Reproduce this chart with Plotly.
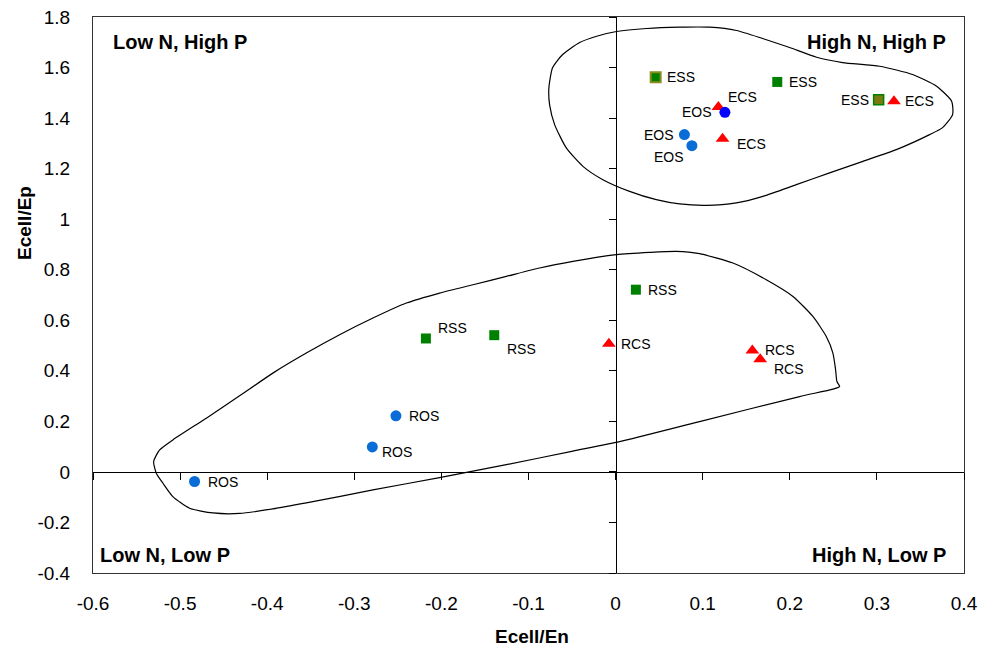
import plotly.graph_objects as go

# ---- data ----
labels = ["ESS", "ECS", "EOS", "EOS", "EOS", "ECS", "ESS", "ESS", "ECS",
          "RSS", "RSS", "RCS", "RSS", "RCS", "RCS", "ROS", "ROS", "ROS"]
x_vals = [0.046, 0.118, 0.1255, 0.079, 0.0876, 0.1228, 0.1856, 0.302, 0.3196,
          -0.2178, -0.1393, -0.0077, 0.0233, 0.157, 0.166, -0.2522, -0.2793, -0.4834]
y_vals = [1.562, 1.444, 1.423, 1.335, 1.291, 1.318, 1.543, 1.473, 1.467,
          0.528, 0.541, 0.507, 0.721, 0.480, 0.446, 0.222, 0.099, -0.038]

x_ticks = [-0.6, -0.5, -0.4, -0.3, -0.2, -0.1, 0, 0.1, 0.2, 0.3, 0.4]
y_ticks = [-0.4, -0.2, 0, 0.2, 0.4, 0.6, 0.8, 1, 1.2, 1.4, 1.6, 1.8]

x_title = "Ecell/En"
y_title = "Ecell/Ep"
quadrants = ["Low N, High P", "High N, High P", "Low N, Low P", "High N, Low P"]

# outline of the "E" group
upper_x = [-0.0766, -0.0723, -0.0608, -0.0413, -0.0218, 0.0011, 0.0356, 0.0735, 0.1079, 0.1389,
           0.1688, 0.1998, 0.2308, 0.2606, 0.3031, 0.3410, 0.3685, 0.3858, 0.3869, 0.3754,
           0.3605, 0.3223, 0.2839, 0.2457, 0.2075, 0.1691, 0.1386, 0.1041, 0.0735, 0.0467,
           0.0161, -0.0146, -0.0375, -0.0566, -0.0700, -0.0758]
upper_y = [1.5196, 1.6000, 1.6515, 1.6990, 1.7240, 1.7426, 1.7545, 1.7596, 1.7596, 1.7465,
           1.7149, 1.6792, 1.6408, 1.6198, 1.6051, 1.5723, 1.5259, 1.4665, 1.4139, 1.3624,
           1.3347, 1.2752, 1.2289, 1.1830, 1.1366, 1.0903, 1.0642, 1.0547, 1.0602, 1.0772,
           1.1101, 1.1564, 1.2091, 1.2820, 1.3743, 1.4535]
# outline of the "R" group
lower_x = [-0.5304, -0.5235, -0.5083, -0.4699, -0.4317, -0.3935, -0.3551, -0.3169, -0.2786, -0.2403,
           -0.2021, -0.1638, -0.1255, -0.0873, -0.0490, 0.0008, 0.0390, 0.0697, 0.0964, 0.1347,
           0.1730, 0.2036, 0.2265, 0.2419, 0.2495, 0.2526, 0.2541, 0.2572, 0.2495, 0.2113,
           0.0964, 0.0046, -0.0490, -0.1255, -0.2021, -0.2786, -0.3551, -0.3935, -0.4317, -0.4623,
           -0.4891, -0.5083, -0.5197, -0.5273]
lower_y = [0.0408, 0.0871, 0.1267, 0.2127, 0.3010, 0.3909, 0.4701, 0.5426, 0.6087, 0.6681,
           0.7077, 0.7406, 0.7735, 0.8067, 0.8329, 0.8594, 0.8685, 0.8725, 0.8634, 0.8265,
           0.7604, 0.6943, 0.6150, 0.5358, 0.4701, 0.4040, 0.3576, 0.3378, 0.3275, 0.2982,
           0.1992, 0.1200, 0.0824, 0.0285, -0.0226, -0.0713, -0.1228, -0.1465, -0.1644, -0.1624,
           -0.1438, -0.0978, -0.0448, -0.0051]

# ---- styles ----
FONT = "Arial, Liberation Sans, sans-serif"
label_shift = [(25, 0), (24, 10), (-28, 0), (-25, 0), (-23, -11), (29, -5), (26, 0), (-24, 0), (26, 0),
               (27, 10), (27, -14), (27, 0), (27, 0), (28, 1), (29, -10), (28, 0), (25, -5), (28, 0)]
marker_style = {
    "S": dict(symbol="square", size=10, color="#008000"),
    "C": dict(symbol="triangle-up", size=12, color="#FF0000"),
    "O": dict(symbol="circle", size=11, color="#0A6CD6"),
}

fig = go.Figure()

# outlines
for ox, oy in [(upper_x, upper_y), (lower_x, lower_y)]:
    fig.add_trace(go.Scatter(x=ox + ox[:1], y=oy + oy[:1], mode="lines",
                             line=dict(color="black", width=1.2, shape="spline", smoothing=0.6),
                             hoverinfo="skip", showlegend=False))

# points
for i, (lab, xv, yv) in enumerate(zip(labels, x_vals, y_vals)):
    st = dict(marker_style[lab[1]])
    line = dict(width=0)
    if lab == "ESS" and i == 0:
        line = dict(width=2, color="#8C8C1E")
    if lab == "ESS" and i == 7:
        st["color"] = "#7A7A10"
        line = dict(width=1.5, color="#008000")
    if lab == "EOS" and i == 2:
        st["color"] = "#0000FF"
    fig.add_trace(go.Scatter(x=[xv], y=[yv], mode="markers",
                             marker=dict(symbol=st["symbol"], size=st["size"], color=st["color"], line=line),
                             showlegend=False, hoverinfo="skip"))
    dx, dy = label_shift[i]
    fig.add_annotation(x=xv, y=yv, text=lab, showarrow=False, xshift=dx, yshift=dy,
                       font=dict(family=FONT, size=14, color="black"))

# invisible trace for crossing axes
fig.add_trace(go.Scatter(x=[0], y=[0], xaxis="x2", yaxis="y2", mode="markers",
                         marker=dict(opacity=0), showlegend=False, hoverinfo="skip"))

xr = [x_ticks[0], x_ticks[-1]]
yr = [y_ticks[0], y_ticks[-1]]

fig.update_layout(
    width=984, height=652,
    margin=dict(l=93, r=20, t=17, b=79, autoexpand=False),
    plot_bgcolor="white", paper_bgcolor="white",
    font=dict(family=FONT, size=19, color="black"),
    xaxis=dict(range=xr, tickvals=x_ticks, ticktext=[f"{v:g}" for v in x_ticks],
               showgrid=False, zeroline=False, showline=True, linecolor="#333333", linewidth=1,
               mirror=True, ticks="", ticklabelstandoff=13, tickfont=dict(size=19), automargin=False),
    yaxis=dict(range=yr, tickvals=y_ticks, ticktext=[f"{v:g}" for v in y_ticks],
               showgrid=False, zeroline=False, showline=True, linecolor="#333333", linewidth=1,
               mirror=True, ticks="", ticklabelstandoff=18, tickfont=dict(size=19), automargin=False),
    xaxis2=dict(overlaying="x", anchor="free", position=(0 - yr[0]) / (yr[1] - yr[0]),
                range=xr, tickvals=x_ticks, showticklabels=False, ticks="outside", ticklen=7,
                tickcolor="black", showline=True, linecolor="black", linewidth=1,
                showgrid=False, zeroline=False, side="bottom", automargin=False),
    yaxis2=dict(overlaying="y", anchor="free", position=(0 - xr[0]) / (xr[1] - xr[0]),
                range=yr, tickvals=y_ticks, showticklabels=False, ticks="outside", ticklen=7,
                tickcolor="black", showline=True, linecolor="black", linewidth=1,
                showgrid=False, zeroline=False, side="left", automargin=False),
)

# axis titles
fig.add_annotation(x=0.504, y=-0.1151, xref="paper", yref="paper", text=f"<b>{x_title}</b>",
                   showarrow=False, xanchor="center", yanchor="middle",
                   font=dict(family=FONT, size=19, color="black"))
fig.add_annotation(x=-0.0781, y=0.6295, xref="paper", yref="paper", text=f"<b>{y_title}</b>",
                   showarrow=False, xanchor="center", yanchor="middle", textangle=-90,
                   font=dict(family=FONT, size=19, color="black"))

# quadrant labels
qpos = [(0.0207, 0.955, "left"), (0.9816, 0.955, "right"), (0.0063, 0.0324, "left"), (0.982, 0.0324, "right")]
for txt, (px, py, xa) in zip(quadrants, qpos):
    fig.add_annotation(x=px, y=py, xref="paper", yref="paper", text=f"<b>{txt}</b>",
                       showarrow=False, xanchor=xa, yanchor="middle",
                       font=dict(family=FONT, size=20, color="black"))

fig.write_html("out.html")
